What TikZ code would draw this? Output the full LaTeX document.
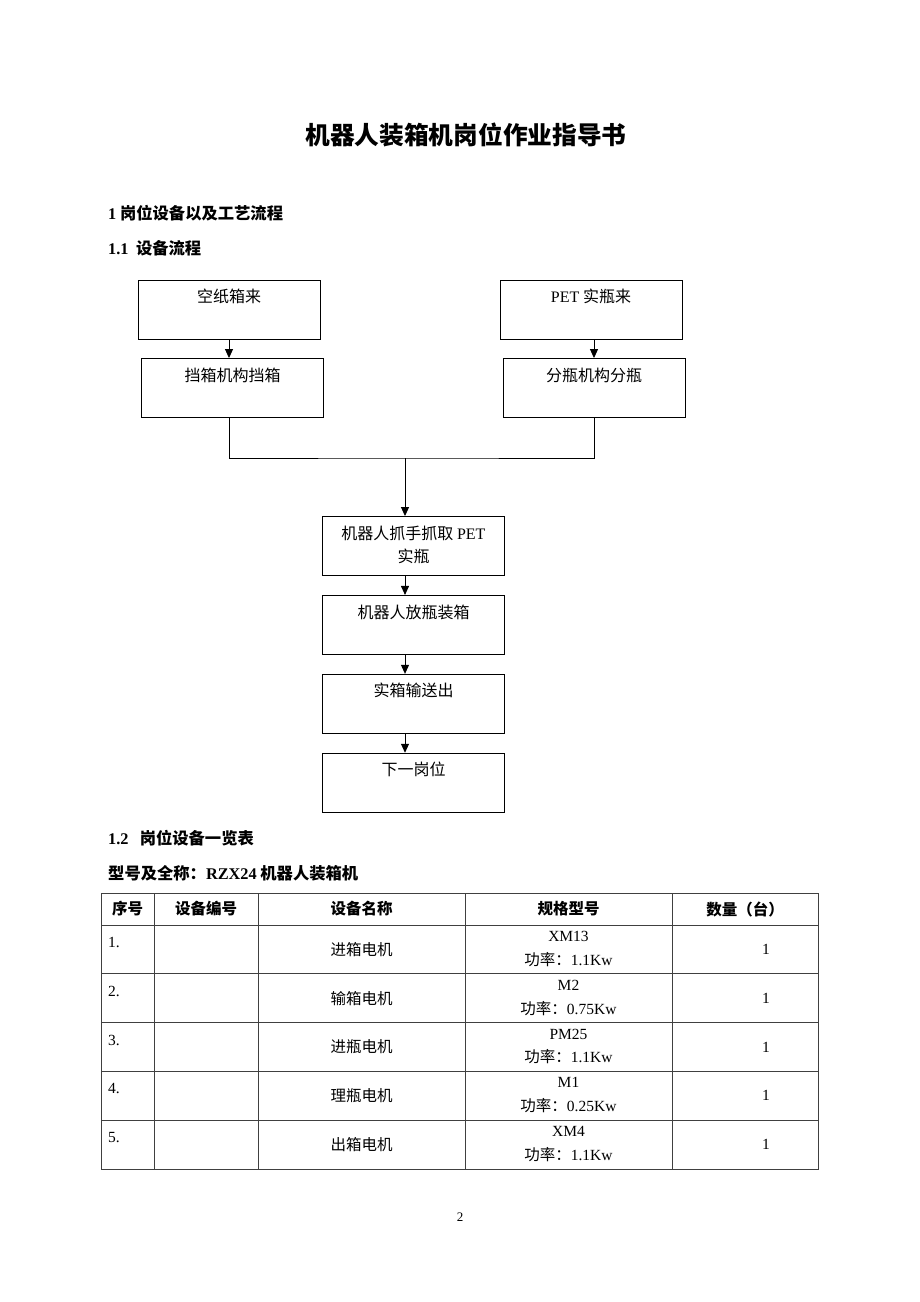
\documentclass[tikz,border=0pt]{standalone}
\usepackage{fontspec}
\setmainfont{Noto Sans CJK SC}
\newfontfamily\en{Liberation Serif}
\usetikzlibrary{arrows.meta,positioning}

\begin{document}
\begin{tikzpicture}[x=1pt,y=-1pt,
  box/.style={draw, line width=0.9pt, align=center, minimum width=182pt,
    minimum height=59pt, inner sep=0pt, font=\fontsize{16}{23}\selectfont},
  flow/.style={-{Triangle[length=9pt,width=8pt]}, line width=0.9pt},
  head/.style={anchor=west, inner sep=0pt, font=\fontsize{16.3}{19}\selectfont\bfseries},
  cell/.style={inner sep=0pt, font=\fontsize{15.5}{18}\selectfont},
  tab/.style={line width=0.8pt, black!75}]
  \useasboundingbox (0,0) rectangle (920,1302);
  \fill[white] (0,0) rectangle (920,1302);

  % Kopf
  \node[font=\fontsize{24.7}{29}\selectfont\bfseries] (titel) at (466,135) {机器人装箱机岗位作业指导书};
  \node[head] (h1) at (108,213) {{\en 1} 岗位设备以及工艺流程};
  \node[head] (h11) at (108,248) {{\en 1.1}\ \ 设备流程};

  % Ablauf
  \node[box] (kong) at (229,309.5) {空纸箱来\strut\\\strut};
  \node[box] (dang) at (232.5,388) {挡箱机构挡箱\strut\\\strut};
  \node[box] (pet) at (591,309.5) {{\en PET} 实瓶来\strut\\\strut};
  \node[box] (fen) at (594,388) {分瓶机构分瓶\strut\\\strut};
  \node[box] (zhua) at (413.5,546) {机器人抓手抓取 {\en PET}\strut\\实瓶\strut};
  \node[box, below=19pt of zhua] (fang) {机器人放瓶装箱\strut\\\strut};
  \node[box, below=19pt of fang] (shi) {实箱输送出\strut\\\strut};
  \node[box, below=19pt of shi] (xia) {下一岗位\strut\\\strut};

  \coordinate (merge) at (405,458);
  \draw[flow] (kong.south) -- (kong.south |- dang.north);
  \draw[flow] (pet.south -| fen.south) -- (fen.north);
  \draw[line width=0.9pt] (dang.south -| kong.south) |- (merge) -| (fen.south);
  \draw[flow] (merge) -- (merge |- zhua.north);
  \draw[flow] (zhua.south -| merge) -- (merge |- fang.north);
  \draw[flow] (fang.south -| merge) -- (merge |- shi.north);
  \draw[flow] (shi.south -| merge) -- (merge |- xia.north);

  % Tabelle
  \node[head] (h12) at (108,838) {{\en 1.2}\ \ \ 岗位设备一览表};
  \node[head] (typ) at (108,873) {型号及全称：{\en RZX24} 机器人装箱机};

  \draw[tab] (101,893) rectangle (818,1169);
  \foreach \x in {154,258,465,672} {
    \draw[tab] (\x,893) -- (\x,1169);
  }
  \foreach \y in {925,973.8,1022.6,1071.4,1120.2} {
    \draw[tab] (101,\y) -- (818,\y);
  }

  \node[cell, font=\fontsize{15.5}{18}\selectfont\bfseries] (k1) at (127.5,909) {序号};
  \node[cell, font=\fontsize{15.5}{18}\selectfont\bfseries] (k2) at (206,909) {设备编号};
  \node[cell, font=\fontsize{15.5}{18}\selectfont\bfseries] (k3) at (361.5,909) {设备名称};
  \node[cell, font=\fontsize{15.5}{18}\selectfont\bfseries] (k4) at (568.5,909) {规格型号};
  \node[cell, font=\fontsize{15.5}{18}\selectfont\bfseries] (k5) at (745,909) {数量（台）};

  \foreach \i/\name/\kind/\pw in {1/进箱电机/XM13/1.1, 2/输箱电机/M2/0.75,
      3/进瓶电机/PM25/1.1, 4/理瓶电机/M1/0.25, 5/出箱电机/XM4/1.1} {
    \pgfmathsetmacro\yc{949.4+48.8*(\i-1)}
    \node[cell, anchor=west] (nr\i) at (108,\yc-7) {{\en\i.}};
    \node[cell] (name\i) at (361.5,\yc) {\name};
    \node[cell] (kind\i) at (568.5,\yc-13) {{\en\kind}};
    \node[cell] (pw\i) at (568.5,\yc+10) {功率：{\en\pw Kw}};
    \node[cell] (qty\i) at (766,\yc) {{\en 1}};
  }

  \node[font=\fontsize{13}{15}\selectfont] (seite) at (460,1217) {{\en 2}};
\end{tikzpicture}
\end{document}
